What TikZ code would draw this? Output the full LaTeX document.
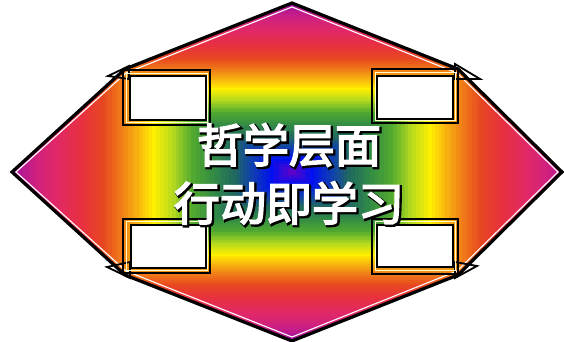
\documentclass[tikz,border=0pt]{standalone}
\usepackage{fontspec}
\newfontfamily\cjk[FakeBold=3.5]{Noto Sans CJK SC}
\newfontfamily\cjkheavy[FakeBold=7]{Noto Sans CJK SC}
\definecolor{cA}{HTML}{A010A0}
\definecolor{cB}{HTML}{D0207F}
\definecolor{cC}{HTML}{E02868}
\definecolor{cD}{HTML}{E83040}
\definecolor{cE}{HTML}{E84820}
\definecolor{cF}{HTML}{F07818}
\definecolor{cG}{HTML}{F8B010}
\definecolor{cH}{HTML}{FFF000}
\definecolor{cI}{HTML}{B0D820}
\definecolor{cJ}{HTML}{50A830}
\definecolor{cK}{HTML}{308848}
\definecolor{cL}{HTML}{206860}
\definecolor{cM}{HTML}{1040B0}
\definecolor{cN}{HTML}{0010F0}
\definecolor{cO}{HTML}{7000C0}
\tikzset{
  outerframe/.style={draw=black, line width=1.3pt},
  gapline/.style={draw=white!80!yellow, line width=0.5pt},
  innerbox/.style={draw=black, fill=white, line width=1pt},
  spike/.style={draw=black, line width=0.9pt, line join=miter},
  title/.style={font=\cjk\fontsize{23}{23}\selectfont, inner sep=0pt, text=white},
  titleshadow/.style={font=\cjkheavy\fontsize{23}{23}\selectfont, inner sep=0pt, text=black}
}
\begin{document}
\begin{tikzpicture}[x=0.5pt,y=-0.5pt]
\useasboundingbox (0,0) rectangle (564,342);
\coordinate (T) at (292,7);
\coordinate (UR) at (457,73);
\coordinate (R) at (558,172);
\coordinate (LR) at (457,271);
\coordinate (B) at (292,337);
\coordinate (LL) at (126,271);
\coordinate (L) at (16,172);
\coordinate (UL) at (126,73);
\coordinate (To) at (292,3);
\coordinate (URo) at (458,69);
\coordinate (Ro) at (562,172);
\coordinate (LRo) at (458,275);
\coordinate (Bo) at (292,341);
\coordinate (LLo) at (125,275);
\coordinate (Lo) at (12,172);
\coordinate (ULo) at (125,69);
\begin{scope}
\clip (To) -- (URo) -- (Ro) -- (LRo) -- (Bo) -- (LLo) -- (Lo) -- (ULo) -- cycle;
\foreach \ta/\tb/\ca/\cb in {1.02/0.92/cA/cB,0.92/0.85/cB/cC,0.85/0.76/cC/cD,0.76/0.68/cD/cE,0.68/0.62/cE/cF,0.62/0.56/cF/cG,0.56/0.50/cG/cH,0.50/0.43/cH/cI,0.43/0.36/cI/cJ,0.36/0.28/cJ/cK,0.28/0.21/cK/cL,0.21/0.15/cL/cM,0.15/0.08/cM/cN,0.08/0.0/cN/cO}{
  \foreach \i in {0,...,4}{
    \pgfmathsetmacro\t{\ta-(\ta-\tb)*\i/5}
    \pgfmathtruncatemacro\p{100-20*\i}
    \fill[fill=\ca!\p!\cb] ({292-280*\t},{172-168*\t}) rectangle ({292+280*\t},{172+168*\t});
  }
}
\end{scope}
\draw[black, line width=1.6pt, line join=miter] (To) -- (URo) -- (Ro) -- (LRo) -- (Bo) -- (LLo) -- (Lo) -- (ULo) -- cycle;
\draw[white, line width=0.55pt, line join=miter] (T) -- (UR) -- (R) -- (LR) -- (B) -- (LL) -- (L) -- (UL) -- cycle;
% spikes
\draw[spike] (108,76) -- (129,66) -- (129,79) -- cycle;
\draw[spike] (480,79) -- (455,64) -- (455,79) -- cycle;
\draw[spike] (107,267) -- (130,262) -- (130,278) -- cycle;
\draw[spike] (477,266) -- (455,262) -- (455,278) -- cycle;
% boxes
\draw[outerframe] (123,70) rectangle (210,125);
\draw[gapline] (126.5,73.5) rectangle (207.5,122.5);
\draw[innerbox] (130,76) rectangle (206,120);
\draw[outerframe] (372,69) rectangle (458,123);
\draw[gapline] (375,72.5) rectangle (455.5,120.5);
\draw[innerbox] (377,76) rectangle (453,119);
\draw[outerframe] (123,219) rectangle (210,273);
\draw[gapline] (126.5,222) rectangle (207.5,270.5);
\draw[innerbox] (131,225) rectangle (206,268);
\draw[outerframe] (372,219) rectangle (458,274);
\draw[gapline] (375,222) rectangle (455.5,271);
\draw[innerbox] (377,225) rectangle (453,267);
% text
\node[titleshadow] (sh1) at (290.5,146.5) {哲学层面};
\node[titleshadow] (sh2) at (290.5,204.5) {行动即学习};
\node[title] (line1) at (289,145) {哲学层面};
\node[title] (line2) at (289,203) {行动即学习};
\end{tikzpicture}
\end{document}
